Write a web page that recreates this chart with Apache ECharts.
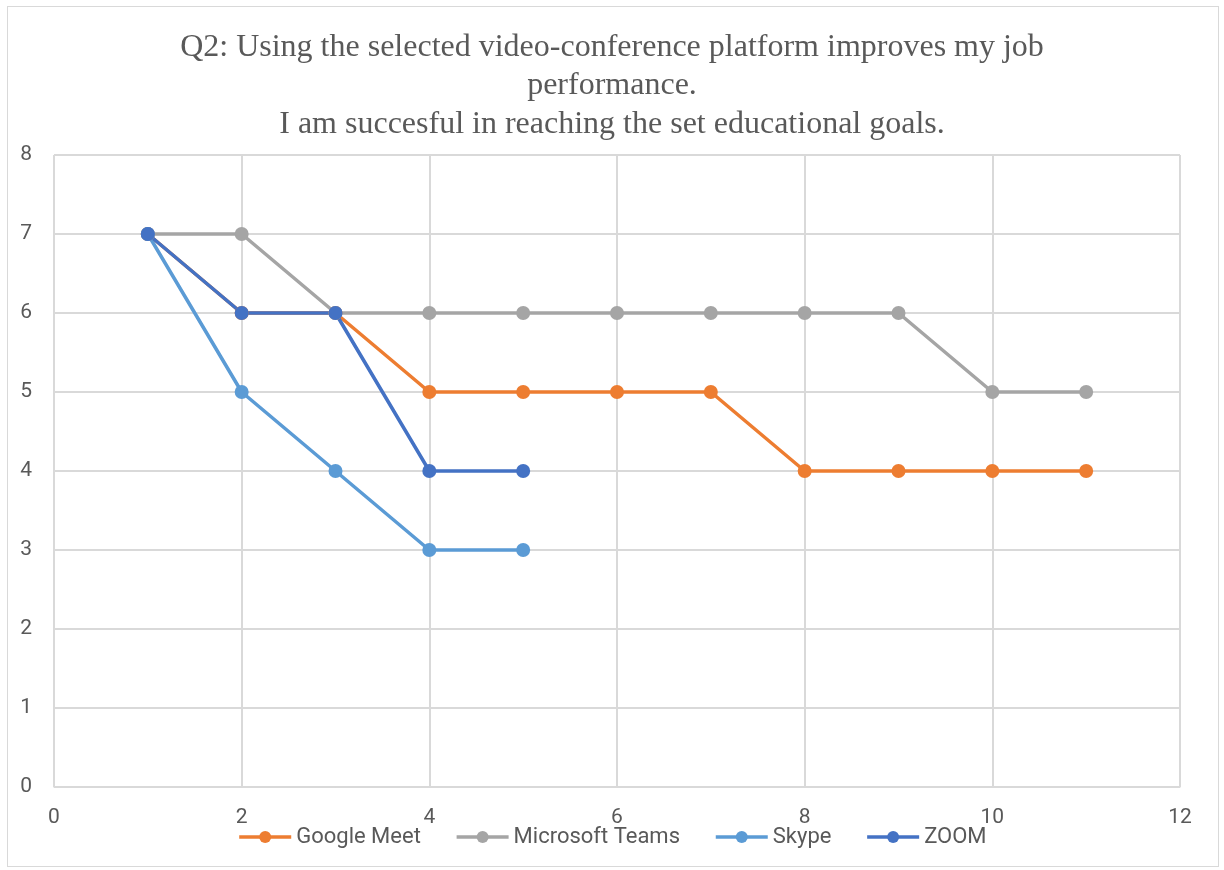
<!DOCTYPE html>
<html>
<head>
<meta charset="utf-8">
<script src="https://cdn.jsdelivr.net/npm/echarts@6/dist/echarts.min.js"></script>
<style>
html, body { margin: 0; padding: 0; background: #fff; }
#box { position: absolute; left: 7px; top: 6px; width: 1210px; height: 859px; border: 1px solid #d9d9d9; }
#chart { position: absolute; left: 0; top: 0; width: 1224px; height: 870px; }
</style>
</head>
<body>
<div id="box"></div>
<div id="chart"></div>
<script>
var xs = [1, 2, 3, 4, 5, 6, 7, 8, 9, 10, 11];
var googleMeet = [7, 6, 6, 5, 5, 5, 5, 4, 4, 4, 4];
var msTeams = [7, 7, 6, 6, 6, 6, 6, 6, 6, 5, 5];
var skype = [7, 5, 4, 3, 3];
var zoom = [7, 6, 6, 4, 4];
var names = ['Google Meet', 'Microsoft Teams', 'Skype', 'ZOOM'];
var colors = ['#ED7D31', '#A5A5A5', '#5B9BD5', '#4472C4'];

function pairs(vals) {
    var out = [];
    for (var i = 0; i < vals.length; i++) {
        out.push([xs[i], vals[i]]);
    }
    return out;
}

var myChart = echarts.init(document.getElementById('chart'));
var lab = { color: '#595959', fontSize: 21, fontFamily: 'Roboto, sans-serif' };
var option = {
    animation: false,
    color: colors,
    title: {
        text: 'Q2: Using the selected video-conference platform improves my job\nperformance.\nI am succesful in reaching the set educational goals.',
        left: 'center',
        top: 23,
        textStyle: {
            fontFamily: 'Liberation Serif, serif',
            fontWeight: 'normal',
            fontSize: 32,
            lineHeight: 38.5,
            color: '#595959'
        }
    },
    grid: { left: 54, right: 44, top: 155, bottom: 83 },
    legend: {
        bottom: 17,
        left: 'center',
        itemWidth: 52,
        itemHeight: 15,
        itemGap: 34,
        lineStyle: { width: 3.5 },
        textStyle: { color: '#595959', fontSize: 22, fontFamily: 'Roboto, sans-serif' },
        data: names
    },
    xAxis: {
        type: 'value',
        min: 0, max: 12, interval: 2,
        axisLine: { show: true, lineStyle: { color: '#d9d9d9', width: 1 } },
        axisTick: { show: false },
        splitLine: { show: true, lineStyle: { color: '#d9d9d9', width: 2 } },
        axisLabel: Object.assign({ margin: 20 }, lab)
    },
    yAxis: {
        type: 'value',
        min: 0, max: 8, interval: 1,
        axisLine: { show: false },
        axisTick: { show: false },
        splitLine: { show: true, lineStyle: { color: '#d9d9d9', width: 2 } },
        axisLabel: Object.assign({ margin: 22 }, lab)
    },
    series: [
        { name: names[0], type: 'line', data: pairs(googleMeet) },
        { name: names[1], type: 'line', data: pairs(msTeams) },
        { name: names[2], type: 'line', data: pairs(skype) },
        { name: names[3], type: 'line', data: pairs(zoom) }
    ].map(function (s, i) {
        s.symbol = 'circle';
        s.symbolSize = 14;
        s.lineStyle = { width: 3.5, color: colors[i] };
        s.itemStyle = { color: colors[i] };
        return s;
    })
};
myChart.setOption(option);
window.addEventListener('resize', function () {
    myChart.resize();
});
</script>
</body>
</html>
